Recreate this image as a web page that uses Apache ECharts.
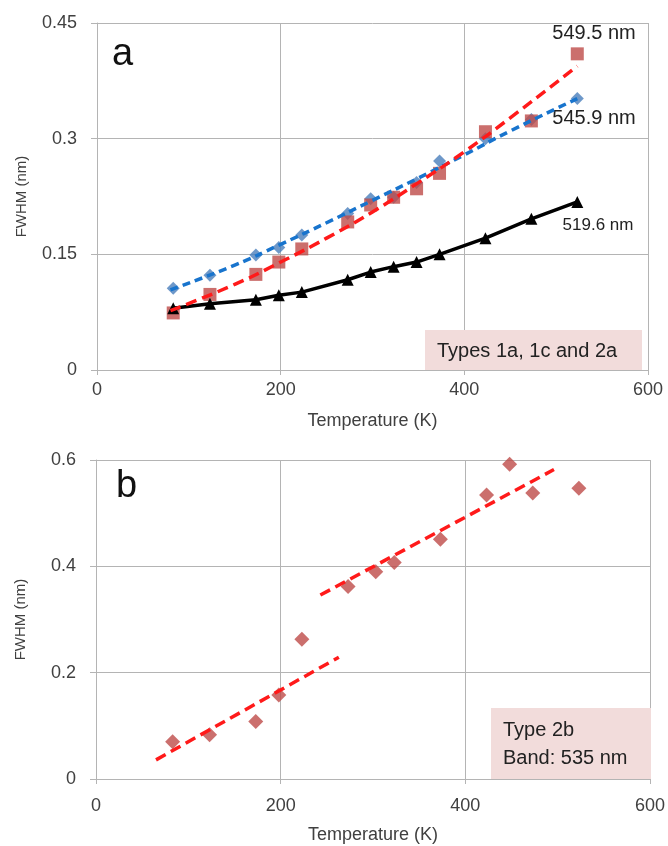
<!DOCTYPE html>
<html>
<head>
<meta charset="utf-8">
<script src="https://cdn.jsdelivr.net/npm/echarts@6/dist/echarts.min.js"></script>
<style>
html,body{margin:0;padding:0;background:#fff;}
#chart{width:668px;height:846px;}
</style>
</head>
<body>
<div id="chart"></div>
<script>
// ---------- Panel a data ----------
const tempA = [83, 123, 173, 198, 223, 273, 298, 323, 348, 373, 423, 473, 523];
const fwhm549 = [0.074, 0.098, 0.124, 0.140, 0.157, 0.192, 0.214, 0.224, 0.235, 0.255, 0.309, 0.323, 0.410];
const fwhm546 = [0.106, 0.123, 0.149, 0.159, 0.175, 0.203, 0.222, 0.224, 0.243, 0.271, 0.300, 0.325, 0.352];
const fwhm520 = [0.080, 0.086, 0.091, 0.097, 0.101, 0.117, 0.127, 0.134, 0.140, 0.150, 0.171, 0.196, 0.218];
const fitTempA = [80, 150, 200, 250, 300, 350, 400, 450, 523];
const fit549 = [0.077, 0.111, 0.140, 0.171, 0.205, 0.243, 0.283, 0.327, 0.394];
const fit546 = [0.104, 0.136, 0.163, 0.191, 0.220, 0.249, 0.279, 0.310, 0.352];
// ---------- Panel b data ----------
const tempB = [83, 123, 173, 198, 223, 273, 303, 323, 373, 423, 448, 473, 523];
const fwhm535 = [0.070, 0.083, 0.108, 0.158, 0.263, 0.362, 0.390, 0.407, 0.451, 0.534, 0.592, 0.538, 0.547];
const fitLowT = [65, 263];
const fitLowV = [0.036, 0.229];
const fitHighT = [243, 496];
const fitHighV = [0.346, 0.582];
// ---------- Axis ticks ----------
const xTicks = {min: 0, max: 600, interval: 200};
const yTicksA = {min: 0, max: 0.45, interval: 0.15};
const yTicksB = {min: 0, max: 0.6, interval: 0.2};

const zip = (xs, ys) => xs.map((x, i) => [x, ys[i]]);
const FONT = "'Liberation Sans', Arial, sans-serif";
const TXT = '#404040';
const GRID = '#B4B4B4';

function xAxis(gi, margin, gap) {
  return {
    type: 'value', gridIndex: gi, min: xTicks.min, max: xTicks.max, interval: xTicks.interval,
    name: 'Temperature (K)', nameLocation: 'middle', nameGap: gap,
    nameTextStyle: {fontFamily: FONT, fontSize: 18, color: TXT},
    axisLine: {show: true, lineStyle: {color: GRID, width: 1}},
    axisTick: {show: true, length: 5, lineStyle: {color: GRID}},
    axisLabel: {fontFamily: FONT, fontSize: 18, color: TXT, margin: margin},
    splitLine: {show: true, lineStyle: {color: GRID, width: 1}}
  };
}
function yAxis(gi, t, fmt) {
  return {
    type: 'value', gridIndex: gi, min: t.min, max: t.max, interval: t.interval,
    name: 'FWHM (nm)', nameLocation: 'middle', nameGap: 68, nameRotate: 90,
    nameTextStyle: {fontFamily: FONT, fontSize: 15, color: TXT},
    axisLine: {show: true, lineStyle: {color: GRID, width: 1}},
    axisTick: {show: true, length: 6, lineStyle: {color: GRID}},
    axisLabel: {fontFamily: FONT, fontSize: 18, color: TXT, margin: 20, formatter: fmt},
    splitLine: {show: true, lineStyle: {color: GRID, width: 1}}
  };
}

const chart = echarts.init(document.getElementById('chart'), null, {renderer: 'canvas'});
chart.setOption({
  animation: false,
  backgroundColor: '#fff',
  grid: [
    {left: 97, top: 23, width: 551, height: 347},
    {left: 96, top: 460, width: 556, height: 319}
  ],
  xAxis: [xAxis(0, 11, 42), xAxis(1, 18, 47)],
  yAxis: [
    yAxis(0, yTicksA, v => (v === 0 ? '0' : String(+v.toFixed(2)))),
    yAxis(1, yTicksB, v => (v === 0 ? '0' : String(+v.toFixed(1))))
  ],
  series: [
    {type: 'scatter', xAxisIndex: 0, yAxisIndex: 0, z: 2, symbol: 'diamond', symbolSize: 13,
     itemStyle: {color: '#4A7EBB'}, data: zip(tempA, fwhm546)},
    {type: 'scatter', xAxisIndex: 0, yAxisIndex: 0, z: 3, symbol: 'rect', symbolSize: 13,
     itemStyle: {color: '#BE4B48'}, data: zip(tempA, fwhm549)},
    {type: 'line', xAxisIndex: 0, yAxisIndex: 0, z: 4, symbol: 'triangle', symbolSize: 12,
     itemStyle: {color: '#000'}, lineStyle: {color: '#000', width: 3.5}, data: zip(tempA, fwhm520)},
    {type: 'line', xAxisIndex: 0, yAxisIndex: 0, z: 5, smooth: true, showSymbol: false,
     lineStyle: {color: '#1874CD', width: 3.5, type: [8, 5]}, data: zip(fitTempA, fit546)},
    {type: 'line', xAxisIndex: 0, yAxisIndex: 0, z: 6, smooth: true, showSymbol: false,
     lineStyle: {color: '#FF1A1A', width: 3.5, type: [11, 6]}, data: zip(fitTempA, fit549)},
    {type: 'scatter', xAxisIndex: 1, yAxisIndex: 1, z: 3, symbol: 'diamond', symbolSize: 15,
     itemStyle: {color: '#BE4B48'}, data: zip(tempB, fwhm535)},
    {type: 'line', xAxisIndex: 1, yAxisIndex: 1, z: 5, showSymbol: false,
     lineStyle: {color: '#FF1A1A', width: 3.5, type: [11, 6]}, data: zip(fitLowT, fitLowV)},
    {type: 'line', xAxisIndex: 1, yAxisIndex: 1, z: 5, showSymbol: false,
     lineStyle: {color: '#FF1A1A', width: 3.5, type: [11, 6]}, data: zip(fitHighT, fitHighV)}
  ],
  graphic: [
    {type: 'text', left: 112, top: 36, style: {text: 'a', font: '38px ' + FONT, fill: '#111'}},
    {type: 'text', left: 116, top: 468, style: {text: 'b', font: '38px ' + FONT, fill: '#111'}},
    {type: 'text', x: 594, y: 33, style: {text: '549.5 nm', font: '20px ' + FONT, fill: '#222', align: 'center', verticalAlign: 'middle'}},
    {type: 'text', x: 594, y: 118, style: {text: '545.9 nm', font: '20px ' + FONT, fill: '#222', align: 'center', verticalAlign: 'middle'}},
    {type: 'text', x: 598, y: 225, style: {text: '519.6 nm', font: '17px ' + FONT, fill: '#222', align: 'center', verticalAlign: 'middle'}},
    {type: 'rect', z: 1, shape: {x: 425, y: 330, width: 217, height: 40}, style: {fill: '#F2DCDB'}},
    {type: 'text', z: 2, x: 437, y: 351, style: {text: 'Types 1a, 1c and 2a', font: '20px ' + FONT, fill: '#222', verticalAlign: 'middle'}},
    {type: 'rect', z: 1, shape: {x: 491, y: 708, width: 160, height: 71}, style: {fill: '#F2DCDB'}},
    {type: 'text', z: 2, x: 503, y: 730, style: {text: 'Type 2b', font: '20px ' + FONT, fill: '#222', verticalAlign: 'middle'}},
    {type: 'text', z: 2, x: 503, y: 758, style: {text: 'Band: 535 nm', font: '20px ' + FONT, fill: '#222', verticalAlign: 'middle'}}
  ]
});
</script>
</body>
</html>
